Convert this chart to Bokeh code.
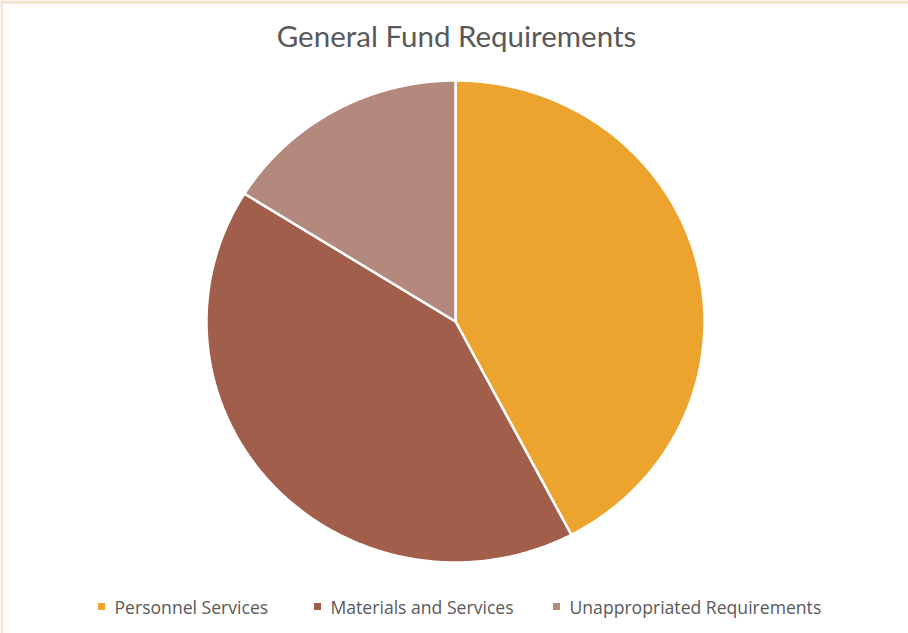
import numpy as np
from bokeh.plotting import figure
from bokeh.models import Range1d
from bokeh.core.properties import value
from bokeh.embed import file_html
from bokeh.resources import INLINE

# ---- data ----
categories = ["Personnel Services", "Materials and Services", "Unappropriated Requirements"]
shares = [42.3, 41.6, 16.1]
colors = ["#EDA42E", "#A15F4B", "#B3887D"]
title_text = "General Fund Requirements"

W, H = 908, 633
p = figure(width=W, height=H, output_backend="svg", toolbar_location=None,
           x_range=Range1d(0, W), y_range=Range1d(H, 0), min_border=0)
p.axis.visible = False
p.grid.visible = False
p.outline_line_color = None
p.background_fill_color = "white"
p.border_fill_color = "white"

# beige frame strips
p.quad(left=[0, 0], right=[W, 2.5], top=[0, 0], bottom=[3.5, H],
       fill_color="#F5E4D0", line_color=None)

# pie (slightly elliptical like the reference)
cx, cy, rx, ry = 455, 321, 249, 241
total = sum(shares)
start = 0.0
for cat, v, c in zip(categories, shares, colors):
    a0 = start / total * 2 * np.pi
    a1 = (start + v) / total * 2 * np.pi
    start += v
    th = np.linspace(a0, a1, 200)
    xs = np.concatenate([[cx], cx + rx * np.sin(th)])
    ys = np.concatenate([[cy], cy - ry * np.cos(th)])
    p.patch(xs, ys, fill_color=c, line_color="white", line_width=2.5, line_join="miter")

# title
p.text(x=[456], y=[35], text=[title_text], text_align="center", text_baseline="middle",
       text_font=value("Lato"), text_font_size="29.5px", text_color="#595959")

# legend
lx = [101, 317, 556]
p.scatter(x=lx, y=[606] * 3, marker="square", size=7, fill_color=colors, line_color=None)
p.text(x=[x + 13 for x in lx], y=[606] * 3, text=categories, text_align="left",
       text_baseline="middle", text_font=value("Open Sans"), text_font_size="17.6px",
       text_color="#595959")

open("out.html", "w").write(file_html(p, INLINE))
